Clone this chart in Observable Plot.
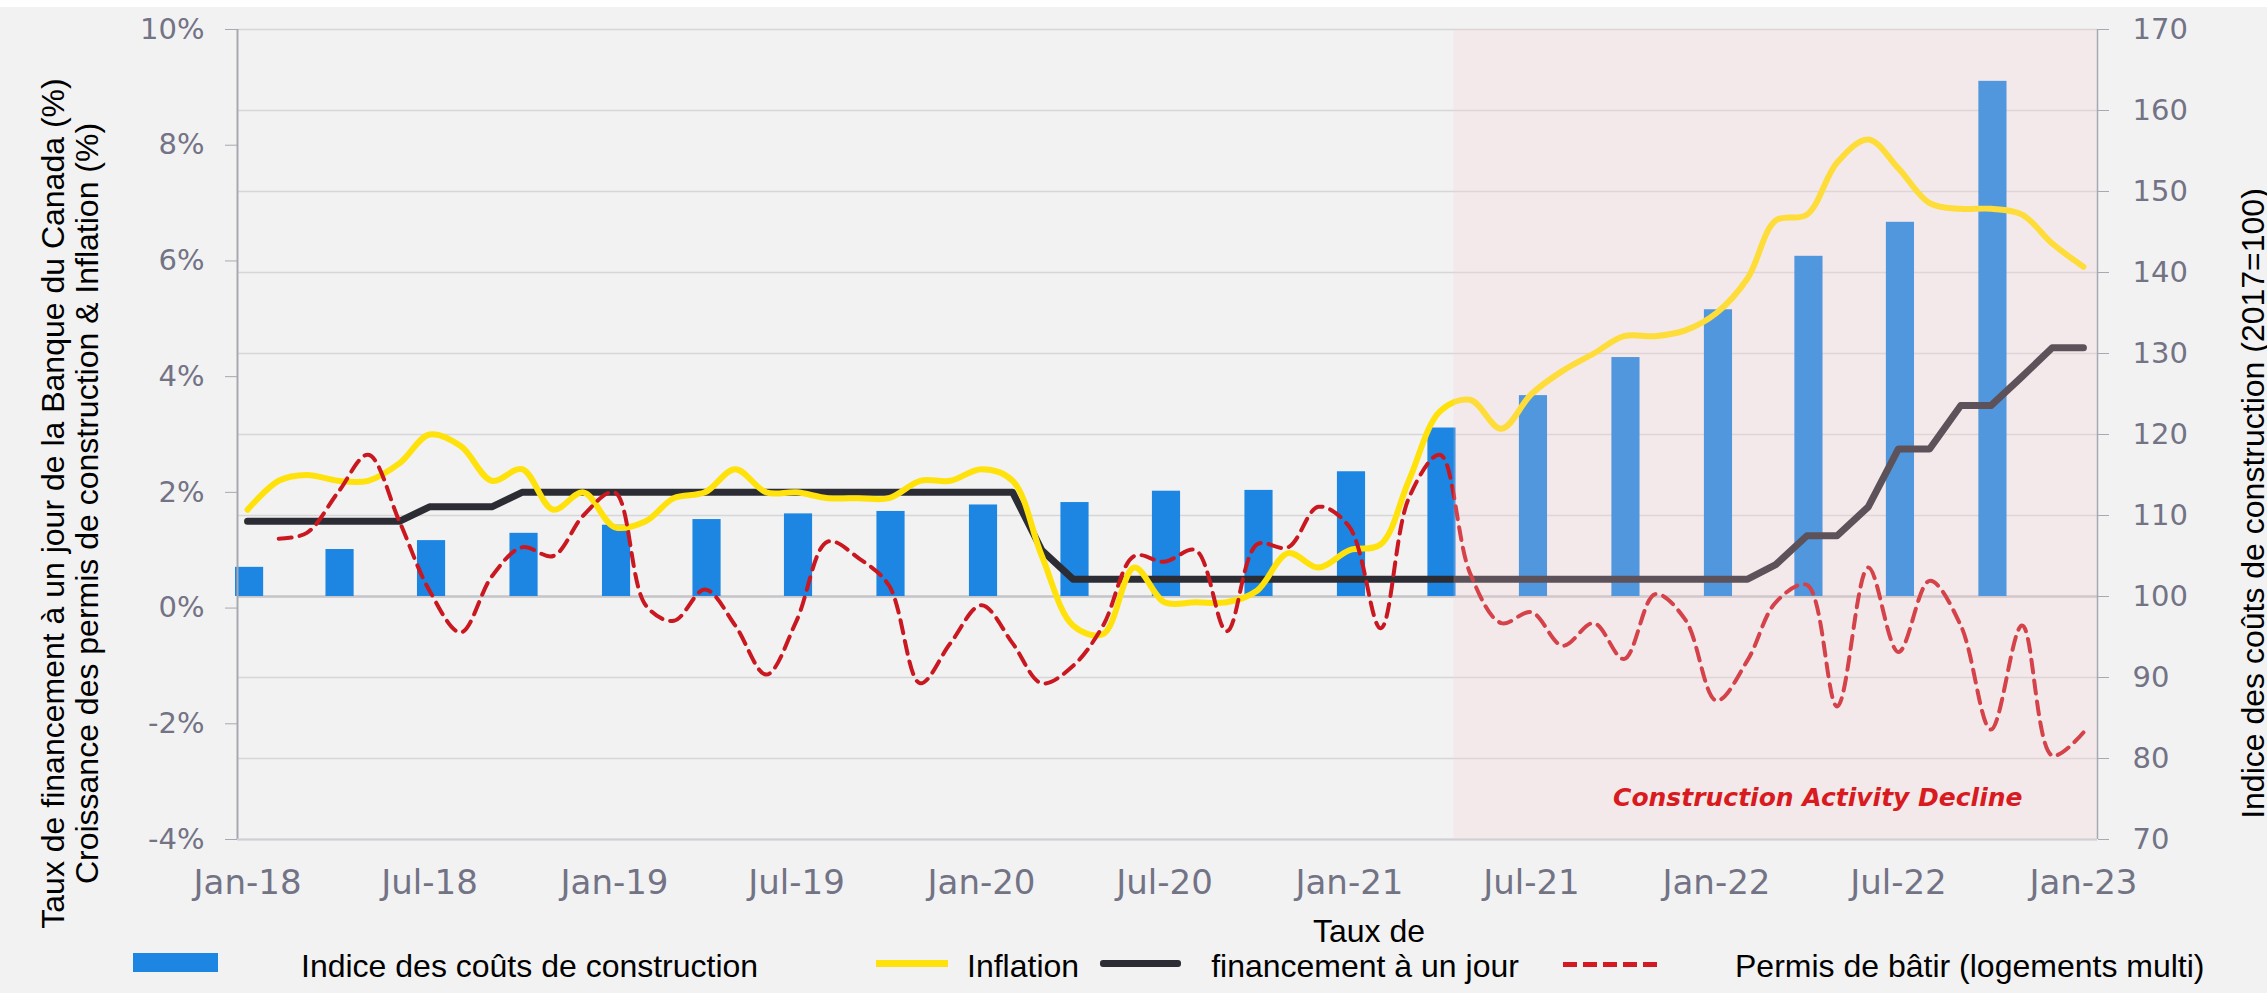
<!DOCTYPE html>
<html><head><meta charset="utf-8">
<script src="https://cdn.jsdelivr.net/npm/d3@7"></script>
<script src="https://cdn.jsdelivr.net/npm/@observablehq/plot@0.6"></script>
<style>
body{margin:0;background:#f2f2f2;width:2267px;height:993px;position:relative;overflow:hidden;font-family:"Liberation Sans",Arial,sans-serif}
#top{height:7px;background:#fff}
#chart svg{display:block}
.lg{position:absolute;font-size:32px;line-height:32px;color:#000;white-space:nowrap}
.sw{position:absolute}
</style></head><body>
<div id="top"></div>
<div id="chart"></div>
<div id="legend"></div>
<script>
// ---- categories ----
const months = d3.utcMonth.range(new Date(Date.UTC(2018,0,1)), new Date(Date.UTC(2023,1,1))); // Jan-18 .. Jan-23
const xTickDates = ["2018-01","2018-07","2019-01","2019-07","2020-01","2020-07","2021-01","2021-07","2022-01","2022-07","2023-01"];
const xTickLabels = ["Jan-18","Jul-18","Jan-19","Jul-19","Jan-20","Jul-20","Jan-21","Jul-21","Jan-22","Jul-22","Jan-23"];
const leftTicks = [-4,-2,0,2,4,6,8,10];
const rightTicks = [70,80,90,100,110,120,130,140,150,160,170];

// ---- series (left axis, %) ----
const inflation = [1.7,2.2,2.3,2.2,2.2,2.5,3.0,2.8,2.2,2.4,1.7,2.0,
  1.4,1.5,1.9,2.0,2.4,2.0,2.0,1.9,1.9,1.9,2.2,2.2,
  2.4,2.2,0.9,-0.3,-0.45,0.7,0.1,0.1,0.1,0.3,0.95,0.7,
  1.0,1.1,2.2,3.4,3.6,3.1,3.7,4.1,4.4,4.7,4.7,4.8,
  5.1,5.7,6.7,6.8,7.7,8.1,7.6,7.0,6.9,6.9,6.8,6.3,
  5.9];
const overnightRate = [1.5,1.5,1.5,1.5,1.5,1.5,1.75,1.75,1.75,2,2,2,
  2,2,2,2,2,2,2,2,2,2,2,2,
  2,2,1.0,0.5,0.5,0.5,0.5,0.5,0.5,0.5,0.5,0.5,
  0.5,0.5,0.5,0.5,0.5,0.5,0.5,0.5,0.5,0.5,0.5,0.5,
  0.5,0.5,0.75,1.25,1.25,1.75,2.75,2.75,3.5,3.5,4.0,4.5,
  4.5];
const permitsGrowth = [null,1.2,1.3,2.0,2.65,1.5,0.3,-0.42,0.55,1.05,0.9,1.6,
  2.0,0.05,-0.22,0.32,-0.3,-1.15,-0.22,1.15,0.86,0.39,-1.3,-0.61,
  0.05,-0.61,-1.3,-1.0,-0.3,0.9,0.8,1.0,-0.4,1.1,1.05,1.75,
  1.4,-0.35,1.9,2.65,0.6,-0.26,-0.07,-0.65,-0.26,-0.88,0.24,-0.2,
  -1.6,-0.9,0.1,0.4,-1.7,0.7,-0.76,0.47,-0.3,-2.1,-0.3,-2.55,
  -2.15];

// ---- bars (right axis, index 2017=100), quarterly ----
const costQuarters = ["2018-01","2018-04","2018-07","2018-10","2019-01","2019-04","2019-07","2019-10",
  "2020-01","2020-04","2020-07","2020-10","2021-01","2021-04","2021-07","2021-10",
  "2022-01","2022-04","2022-07","2022-10"];
const costIndex = [103.6,105.8,106.9,107.8,108.8,109.5,110.2,110.5,111.3,111.6,113.0,113.1,
  115.4,120.8,124.8,129.5,135.4,142.0,146.2,163.6];

const declineStart = "2021-04-15";
const annotation = "Construction Activity Decline";
const leftTitle1 = "Taux de financement à un jour de la Banque du Canada (%)";
const leftTitle2 = "Croissance des permis de construction & Inflation (%)";
const rightTitle = "Indice des coûts de construction (2017=100)";

// ---- scales helpers ----
const leftDomain = [-4, 10], rightDomain = [70, 170];
const k = (leftDomain[1]-leftDomain[0])/(rightDomain[1]-rightDomain[0]);
const toLeft = v => leftDomain[0] + (v - rightDomain[0]) * k;
const fromLeft = d => Math.round(rightDomain[0] + (d - leftDomain[0]) / k);
const xStart = new Date("2017-12-22"), xEnd = new Date("2023-01-15");

const rows = months.map((date, i) => ({date, inflation: inflation[i], rate: overnightRate[i], permits: permitsGrowth[i]}));
const bars = costQuarters.map((q, i) => ({date: new Date(q + "-01"), value: costIndex[i]}));
const tickDates = xTickDates.map(s => new Date(s + "-01"));
const tickLabel = new Map(tickDates.map((d, i) => [+d, xTickLabels[i]]));

const axisColor = "#a8a8b2", labelColor = "#737386";

const chart = Plot.plot({
  width: 2267, height: 903,
  marginTop: 22, marginBottom: 71, marginLeft: 237, marginRight: 170,
  style: {background: "transparent", fontFamily: "DejaVu Sans, sans-serif", overflow: "visible"},
  x: {type: "utc", domain: [xStart, xEnd]},
  y: {domain: leftDomain},
  marks: [
    Plot.ruleY(rightTicks.map(toLeft), {stroke: "#d6d6d8", strokeWidth: 1.5}),
    Plot.ruleY([toLeft(100)], {stroke: "#c6c6ca", strokeWidth: 2.5}),
    Plot.rectY(bars, {x1: d => d3.utcDay.offset(d.date, -12), x2: d => d3.utcDay.offset(d.date, 16), y1: toLeft(100), y2: d => toLeft(d.value), fill: "#1c86e2"}),
    Plot.line(rows, {x: "date", y: "rate", stroke: "#2c2c34", strokeWidth: 7, strokeLinejoin: "round", strokeLinecap: "round"}),
    Plot.line(rows, {x: "date", y: "inflation", stroke: "#ffe20c", strokeWidth: 6, curve: "catmull-rom", strokeLinecap: "round"}),
    Plot.line(rows.filter(d => d.permits != null), {x: "date", y: "permits", stroke: "#c91820", strokeWidth: 4, strokeDasharray: "13,8", curve: "catmull-rom"}),
    Plot.rect([{x1: new Date(declineStart), x2: xEnd}], {x1: "x1", x2: "x2", y1: leftDomain[0], y2: leftDomain[1], fill: "rgb(250,205,207)", fillOpacity: 0.24}),
    Plot.text([annotation], {frameAnchor: "bottom-right", dx: -75, dy: -42, textAnchor: "end", lineAnchor: "middle", fill: "#d81b20", fontSize: 25, fontWeight: "bold", fontStyle: "italic", fontFamily: "DejaVu Sans"}),
    Plot.ruleX([xStart], {stroke: axisColor, strokeWidth: 2}),
    Plot.ruleX([xEnd], {stroke: axisColor, strokeWidth: 1.5}),
    Plot.ruleY([leftDomain[0]], {stroke: "#d0d0d4", strokeWidth: 2}),
    Plot.axisY(leftTicks, {anchor: "left", tickFormat: d => d + "%", tickSize: 12, tickPadding: 21, fontSize: 29, fill: labelColor, stroke: axisColor, label: null}),
    Plot.axisY(rightTicks.map(toLeft), {anchor: "right", tickFormat: d => String(fromLeft(d)), tickSize: 11, tickPadding: 24, fontSize: 29, fill: labelColor, stroke: axisColor, label: null}),
    Plot.axisX(tickDates, {tickFormat: d => tickLabel.get(+d), tickSize: 0, tickPadding: 30, fontSize: 34, fill: labelColor, label: null}),
    Plot.text([leftTitle1], {frameAnchor: "left", dx: -184, dy: 69, rotate: -90, lineAnchor: "middle", textAnchor: "middle", fontSize: 32, fontFamily: "Liberation Sans, Arial", fill: "#000"}),
    Plot.text([leftTitle2], {frameAnchor: "left", dx: -150, dy: 69, rotate: -90, lineAnchor: "middle", textAnchor: "middle", fontSize: 32, fontFamily: "Liberation Sans, Arial", fill: "#000"}),
    Plot.text([rightTitle], {frameAnchor: "right", dx: 156, dy: 69, rotate: -90, lineAnchor: "middle", textAnchor: "middle", fontSize: 32, fontFamily: "Liberation Sans, Arial", fill: "#000"})
  ]
});
document.getElementById("chart").appendChild(chart);

// ---- legend (below the SVG) ----
const legendItems = [
  {kind: "rect", color: "#1c86e2", left: 133, top: 953, width: 85, height: 19},
  {kind: "text", text: "Indice des coûts de construction", left: 301, top: 950},
  {kind: "rect", color: "#ffe20c", left: 876, top: 960, width: 72, height: 7},
  {kind: "text", text: "Inflation", left: 967, top: 950},
  {kind: "rect", color: "#2c2c34", left: 1100, top: 960, width: 81, height: 7, radius: 3},
  {kind: "ctext", text: "Taux de", left: 1369, top: 915},
  {kind: "ctext", text: "financement à un jour", left: 1365, top: 950},
  {kind: "dash", color: "#d21a22", left: 1563, top: 962, width: 96, height: 5},
  {kind: "text", text: "Permis de bâtir (logements multi)", left: 1735, top: 950}
];
const lg = document.getElementById("legend");
for (const it of legendItems) {
  const el = document.createElement("div");
  if (it.kind === "rect" || it.kind === "dash") {
    el.className = "sw";
    el.style.left = it.left + "px"; el.style.top = it.top + "px";
    el.style.width = it.width + "px"; el.style.height = it.height + "px";
    el.style.background = it.kind === "rect" ? it.color : `repeating-linear-gradient(90deg, ${it.color} 0 14px, transparent 14px 20px)`;
    if (it.radius) el.style.borderRadius = it.radius + "px";
  } else {
    el.className = "lg";
    el.textContent = it.text;
    el.style.left = it.left + "px"; el.style.top = it.top + "px";
    if (it.kind === "ctext") el.style.transform = "translateX(-50%)";
  }
  lg.appendChild(el);
}
</script>
</body></html>
